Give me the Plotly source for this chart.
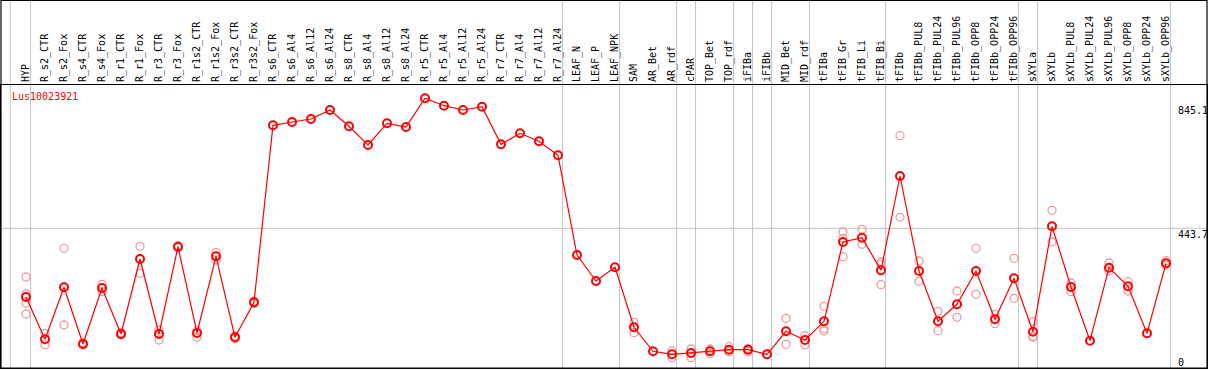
import plotly.graph_objects as go

categories = ["HYP", "R_s2_CTR", "R_s2_Fox", "R_s4_CTR", "R_s4_Fox", "R_r1_CTR", "R_r1_Fox",
              "R_r3_CTR", "R_r3_Fox", "R_r1s2_CTR", "R_r1s2_Fox", "R_r3s2_CTR", "R_r3s2_Fox",
              "R_s6_CTR", "R_s6_Al4", "R_s6_Al12", "R_s6_Al24", "R_s8_CTR", "R_s8_Al4", "R_s8_Al12",
              "R_s8_Al24", "R_r5_CTR", "R_r5_Al4", "R_r5_Al12", "R_r5_Al24", "R_r7_CTR", "R_r7_Al4",
              "R_r7_Al12", "R_r7_Al24", "LEAF_N", "LEAF_P", "LEAF_NPK", "SAM", "AR_Bet", "AR_rdf",
              "cPAR", "TOP_Bet", "TOP_rdf", "iFIBa", "iFIBb", "MID_Bet", "MID_rdf", "tFIBa",
              "tFIB_Gr", "tFIB_Li", "tFIB_Bi", "tFIBb", "tFIBb_PUL8", "tFIBb_PUL24", "tFIBb_PUL96",
              "tFIBb_OPP8", "tFIBb_OPP24", "tFIBb_OPP96", "sXYLa", "sXYLb", "sXYLb_PUL8",
              "sXYLb_PUL24", "sXYLb_PUL96", "sXYLb_OPP8", "sXYLb_OPP24", "sXYLb_OPP96"]

mean_values = [225.5, 91.2, 256.3, 76.2, 254.0, 108.0, 346.2, 108.0, 385.3, 111.2, 354.8, 97.5, 208.7,
               770.8, 781.3, 790.8, 819.4, 767.7, 708.3, 777.2, 765.4, 856.6, 833.1, 819.4, 829.9,
               710.5, 745.4, 720.0, 675.5, 358.9, 276.3, 319.8, 129.3, 53.0, 43.5, 47.6, 53.0, 58.1,
               58.1, 43.5, 116.6, 88.9, 148.3, 400.2, 413.8, 310.3, 609.8, 308.1, 148.3, 202.3, 308.1,
               154.7, 284.9, 115.3, 450.0, 257.3, 86.7, 318.6, 259.5, 110.2, 332.5]

replicate_values = [
    [289.0, 235.0, 206.4, 171.5], [110.2, 74.0], [380.2, 136.6], [80.4, 73.0], [265.8, 242.3],
    [113.4, 104.8], [386.5, 300.8], [120.7, 88.9], [388.4, 382.0], [118.5, 97.5], [366.2, 343.0],
    [101.6, 93.0], [212.0, 205.0],
    [], [], [], [], [], [], [], [], [], [], [], [], [], [], [], [],
    [], [], [],
    [145.1, 112.1], [], [55.0, 32.7], [60.3, 32.7], [60.3, 45.4], [67.7, 51.8], [62.6, 51.8], [],
    [157.9, 75.3], [102.6, 74.0], [196.0, 124.8, 117.5], [432.0, 412.0, 353.5], [440.5, 392.9],
    [336.7, 329.0, 264.6], [737.8, 478.6], [339.8, 275.4], [180.1, 118.5], [244.6, 161.0],
    [380.2, 234.1], [170.6, 140.7], [348.4, 221.4], [147.1, 97.5, 101.0], [500.9, 400.2],
    [270.0, 242.3], [], [333.5, 308.1], [274.1, 244.6], [], [340.8, 327.0],
]

gene_label = "Lus10023921"
ytick_vals = [845.1, 443.7, 0]
ytick_text = ["845.1", "443.7", "0"]
group_ends = [0, 28, 31, 34, 35, 37, 38, 39, 41, 45, 52, 53, 60]

FONT = "DejaVu Sans Mono"
idx = list(range(len(categories)))

rep_x, rep_y = [], []
for i, reps in enumerate(replicate_values):
    for v in reps:
        rep_x.append(i)
        rep_y.append(v)

fig = go.Figure()
fig.add_trace(go.Scatter(
    x=rep_x, y=rep_y, mode="markers",
    marker=dict(symbol="circle-open", size=8, color="#f29a9a", line=dict(width=1.3, color="#f29a9a")),
    hoverinfo="skip", showlegend=False))
fig.add_trace(go.Scatter(
    x=idx, y=mean_values, mode="lines+markers",
    line=dict(color="#ff0000", width=1.2),
    marker=dict(symbol="circle-open", size=8, color="#ff0000", line=dict(width=2, color="#ff0000")),
    showlegend=False))

shapes = []
top_paper = (368 - 0.5) / 283
# vertical group separators
sep_positions = [-0.83] + [g + 0.24 for g in group_ends]
for sx in sep_positions:
    shapes.append(dict(type="line", xref="x", yref="paper", x0=sx, x1=sx, y0=0, y1=top_paper,
                       line=dict(color="#c4c4c4", width=1), layer="below"))
# horizontal reference line at mid value
shapes.append(dict(type="line", xref="paper", yref="y", x0=0, x1=1, y0=ytick_vals[1], y1=ytick_vals[1],
                   line=dict(color="#c4c4c4", width=1), layer="below"))
# outer frame
shapes.append(dict(type="rect", xref="paper", yref="paper", x0=0, x1=1, y0=0, y1=top_paper,
                   line=dict(color="black", width=1.2), fillcolor="rgba(0,0,0,0)"))

annotations = [dict(text=gene_label, xref="paper", yref="paper", x=(10 - 1) / 1206,
                    y=1 - (97 - 85) / 283, xanchor="left", yanchor="middle", showarrow=False,
                    font=dict(family=FONT, size=10, color="#ff0000"))]
label_x = (1176 - 1) / 1206
yshifts = [-1, 1, -2]
yanchors = ["top", "top", "bottom"]
for v, t, ys, ya in zip(ytick_vals, ytick_text, yshifts, yanchors):
    annotations.append(dict(text=t, xref="paper", yref="y", x=label_x, y=v, xanchor="left",
                            yanchor=ya, yshift=ys, showarrow=False,
                            font=dict(family=FONT, size=10, color="black")))

x0 = -25 / 19
fig.update_layout(
    width=1209, height=370,
    margin=dict(l=1, r=2, t=85, b=2, pad=0),
    paper_bgcolor="white", plot_bgcolor="rgba(0,0,0,0)",
    font=dict(family=FONT, size=10, color="black"),
    shapes=shapes, annotations=annotations,
    xaxis=dict(range=[x0, x0 + 1206 / 19], side="top", tickmode="array", tickvals=idx,
               ticktext=categories, tickangle=-90, showgrid=False, zeroline=False,
               showline=True, linecolor="black", linewidth=1, mirror=True, ticks="",
               automargin=False, tickfont=dict(family=FONT, size=10, color="black")),
    yaxis=dict(range=[0, 898.8], showgrid=False, zeroline=False, showticklabels=False,
               automargin=False, showline=True, linecolor="black", linewidth=1, mirror=True, ticks=""),
)

fig.write_html("out.html", config={"displayModeBar": False},
               post_script="document.body.style.margin='0px';document.body.style.overflow='hidden';")
